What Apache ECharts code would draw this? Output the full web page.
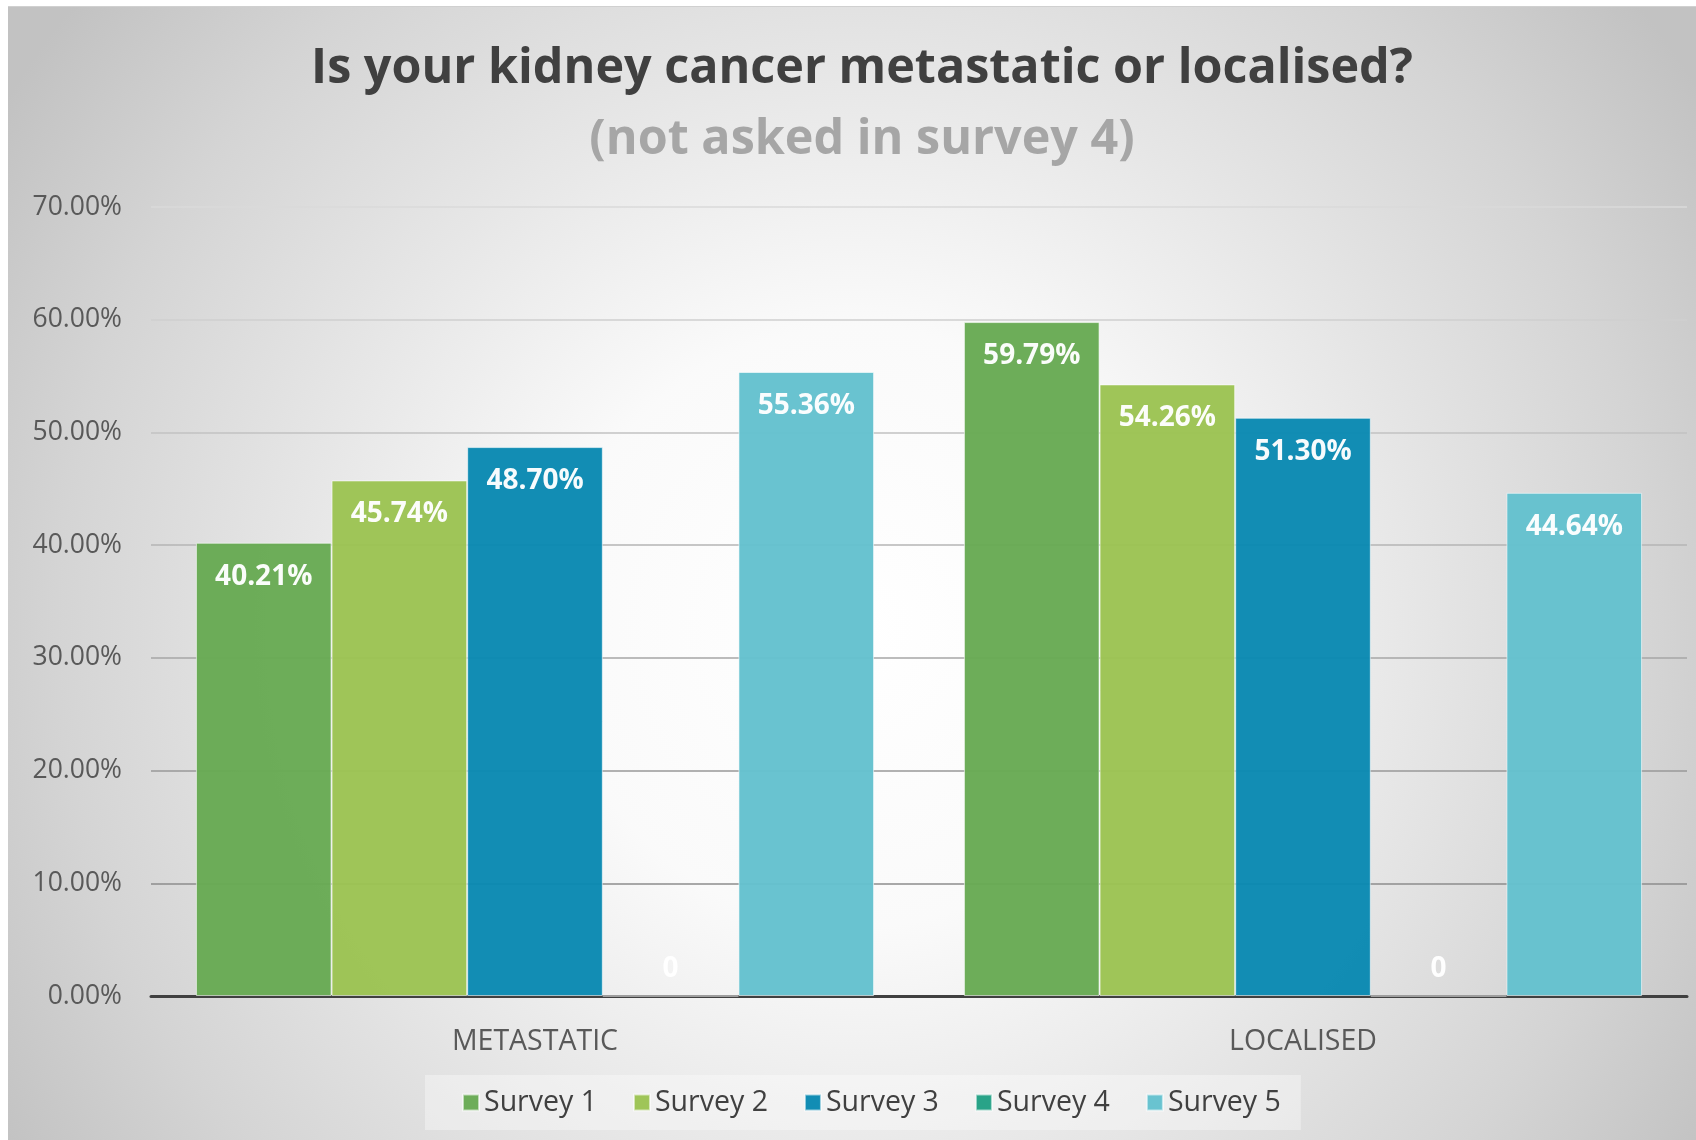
<!DOCTYPE html>
<html>
<head>
<meta charset="utf-8">
<title>Is your kidney cancer metastatic or localised?</title>
<script src="https://cdn.jsdelivr.net/npm/echarts@6/dist/echarts.min.js"></script>
<style>
  html, body { margin: 0; padding: 0; background: #ffffff; }
  #chart { position: absolute; left: 8px; top: 6px; width: 1688px; height: 1134px; border-top: 1px solid #d0d0d0; box-sizing: border-box; }
</style>
</head>
<body>
<div id="chart"></div>
<script>
var categories = ['METASTATIC', 'LOCALISED'];
var seriesNames = ['Survey 1', 'Survey 2', 'Survey 3', 'Survey 4', 'Survey 5'];
var survey1 = [40.21, 59.79];
var survey2 = [45.74, 54.26];
var survey3 = [48.70, 51.30];
var survey4 = [0, 0];
var survey5 = [55.36, 44.64];
var yTicks = [0, 10, 20, 30, 40, 50, 60, 70];

var values = [survey1, survey2, survey3, survey4, survey5];
var colors = ['#68aa54', '#9cc353', '#0a89b2', '#22a084', '#64c1ce'];
var font = '"Open Sans", "Noto Sans", sans-serif';

var chart = echarts.init(document.getElementById('chart'));

function fmt(v) {
  return v === 0 ? '0' : v.toFixed(2) + '%';
}

var option = {
  backgroundColor: {
    type: 'radial', x: 848, y: 620, r: 1000, global: true,
    colorStops: [
      {offset: 0, color: '#ffffff'},
      {offset: 0.3, color: '#fafafa'},
      {offset: 0.8, color: '#d4d4d4'},
      {offset: 1, color: '#c2c2c2'}
    ]
  },
  title: {
    text: 'Is your kidney cancer metastatic or localised?',
    subtext: '(not asked in survey 4)',
    left: 854,
    textAlign: 'center',
    top: 32,
    padding: 0,
    itemGap: 11,
    textStyle: {
      fontFamily: font, fontWeight: 'bold', fontSize: 48.5, lineHeight: 60, color: '#404040'
    },
    subtextStyle: {
      fontFamily: font, fontWeight: 'bold', fontSize: 48.5, lineHeight: 60, color: '#a6a6a6'
    }
  },
  legend: {
    data: seriesNames,
    left: 417,
    top: 1068,
    padding: [13, 20, 13, 37],
    backgroundColor: 'rgba(255,255,255,0.35)',
    itemWidth: 16,
    itemHeight: 16,
    itemGap: 36,
    icon: 'rect',
    textStyle: {fontFamily: font, fontSize: 28.5, color: '#404040'}
  },
  grid: {
    left: 143, right: 9, top: 200, bottom: 144
  },
  xAxis: {
    type: 'category',
    data: categories,
    axisTick: {show: false},
    axisLine: {lineStyle: {color: '#404040', width: 3}},
    axisLabel: {fontFamily: font, fontSize: 28.5, color: '#595959', margin: 31}
  },
  yAxis: {
    type: 'value',
    min: yTicks[0],
    max: yTicks[yTicks.length - 1],
    interval: 10,
    axisLine: {show: false},
    axisTick: {show: false},
    axisLabel: {
      fontFamily: font, fontSize: 26.5, color: '#595959', margin: 29,
      formatter: function (v) { return v.toFixed(2) + '%'; }
    },
    splitLine: {
      lineStyle: {
        width: 1.5,
        color: ['#404040', '#8c8c8c', '#999999', '#a6a6a6', '#b4b4b4', '#c2c2c2', '#cfcfcf', '#dadada']
      }
    }
  },
  series: seriesNames.map(function (name, i) {
    return {
      name: name,
      type: 'bar',
      data: values[i],
      barGap: '0%',
      barCategoryGap: '11.7%',
      itemStyle: {
        color: colors[i],
        opacity: 0.97,
        borderColor: 'rgba(255,255,255,0.6)',
        borderWidth: 1
      },
      label: {
        show: true,
        position: values[i][0] === 0 ? 'top' : 'insideTop',
        distance: values[i][0] === 0 ? 12 : 20,
        fontFamily: font,
        fontWeight: 'bold',
        fontSize: 28,
        color: '#ffffff',
        formatter: function (p) { return fmt(p.value); }
      }
    };
  })
};

chart.setOption(option);
</script>
</body>
</html>
